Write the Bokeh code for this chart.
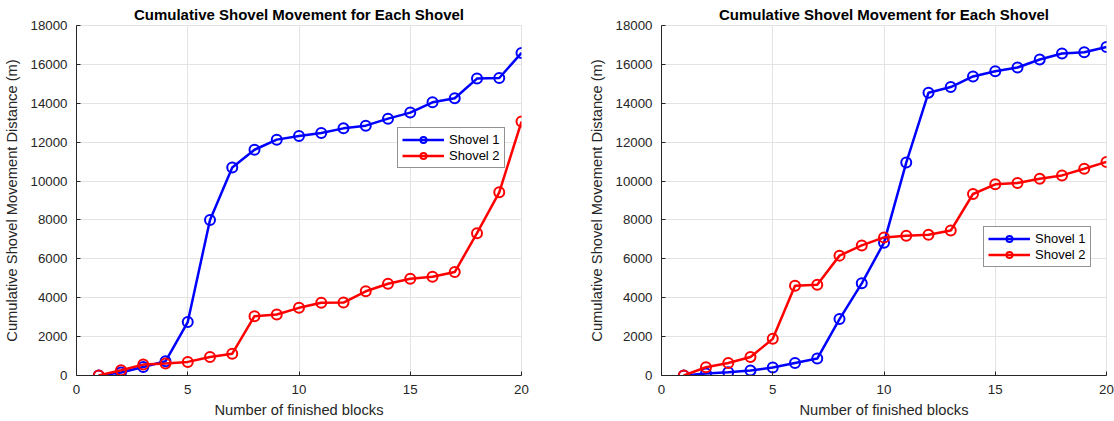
from bokeh.plotting import figure
from bokeh.layouts import row
from bokeh.models import Range1d, FixedTicker, Legend, LegendItem
from bokeh.embed import file_html
from bokeh.resources import INLINE

# ---- data ----
blocks = list(range(1, 21))
left_shovel1 = [0, 150, 440, 730, 2750, 8000, 10700, 11610, 12130, 12320,
                12470, 12710, 12850, 13210, 13520, 14050, 14260, 15270, 15300, 16590]
left_shovel2 = [0, 270, 560, 620, 700, 950, 1120, 3050, 3140, 3480,
                3740, 3750, 4330, 4720, 4980, 5080, 5320, 7320, 9420, 13060]
right_shovel1 = [0, 100, 170, 255, 410, 645, 870, 2900, 4740, 6830,
                 10950, 14545, 14835, 15380, 15650, 15840, 16250, 16560, 16620, 16890]
right_shovel2 = [0, 425, 645, 950, 1885, 4620, 4670, 6165, 6690, 7100,
                 7185, 7235, 7455, 9335, 9830, 9900, 10120, 10290, 10630, 10985]
series_names = ["Shovel 1", "Shovel 2"]
series_colors = ["#0000FF", "#FF0000"]
title_text = "Cumulative Shovel Movement for Each Shovel"
x_label = "Number of finished blocks"
y_label = "Cumulative Shovel Movement Distance (m)"
x_ticks = [0, 5, 10, 15, 20]
y_ticks = list(range(0, 18001, 2000))

FONT = "Liberation Sans"
AX = "#262626"
GRID = "#e3e3e3"


def make_panel(s1, s2, width, border_right, legend_xy):
    p = figure(width=width, height=421, output_backend="svg", toolbar_location=None,
               x_range=Range1d(0, 20), y_range=Range1d(0, 18000),
               min_border_left=74, min_border_right=border_right,
               min_border_top=25, min_border_bottom=46)
    p.title.text = title_text
    p.title.align = "center"
    p.title.text_font = FONT
    p.title.text_font_size = "15px"
    p.title.text_font_style = "bold"
    p.title.text_color = "#000000"
    p.title.standoff = 5
    p.title.text_line_height = 1.0

    p.xaxis.axis_label = x_label
    p.yaxis.axis_label = y_label
    for ax in (p.xaxis[0], p.yaxis[0]):
        ax.axis_label_text_font = FONT
        ax.axis_label_text_font_size = "14.7px"
        ax.axis_label_text_font_style = "normal"
        ax.axis_label_text_color = AX
        ax.major_label_text_font = FONT
        ax.major_label_text_font_size = "13.3px"
        ax.major_label_text_color = AX
        ax.axis_line_color = AX
        ax.axis_line_width = 1
        ax.major_tick_in = 4
        ax.major_tick_out = 0
        ax.major_tick_line_color = AX
        ax.minor_tick_line_color = None
    p.xaxis.ticker = FixedTicker(ticks=x_ticks)
    p.yaxis.ticker = FixedTicker(ticks=y_ticks)
    p.xaxis.major_label_standoff = 9
    p.xaxis.axis_label_standoff = 5
    p.yaxis.major_label_standoff = 9
    p.yaxis.axis_label_standoff = 8

    p.xgrid.grid_line_color = GRID
    p.ygrid.grid_line_color = GRID
    p.outline_line_color = GRID
    p.outline_line_width = 1
    p.background_fill_color = "#ffffff"
    p.border_fill_color = "#ffffff"

    items = []
    for ys, name, col in zip((s1, s2), series_names, series_colors):
        ln = p.line(blocks, ys, line_color=col, line_width=2.5)
        sc = p.scatter(blocks, ys, marker="circle", size=10, fill_color=None,
                       line_color=col, line_width=2)
        items.append(LegendItem(label=name, renderers=[ln, sc]))

    leg = Legend(items=items, location=legend_xy)
    leg.label_text_font = FONT
    leg.label_text_font_size = "13px"
    leg.label_text_color = "#000000"
    leg.glyph_width = 42
    leg.glyph_height = 15
    leg.label_height = 15
    leg.label_standoff = 5
    leg.spacing = 1
    leg.padding = 4
    leg.margin = 0
    leg.border_line_color = AX
    leg.border_line_width = 0.8
    leg.background_fill_color = "#ffffff"
    leg.background_fill_alpha = 1.0
    p.add_layout(leg)
    return p


p1 = make_panel(left_shovel1, left_shovel2, 585, 64, (321, 207))
p2 = make_panel(right_shovel1, right_shovel2, 529, 8, (322, 108))

layout = row(p1, p2)
open("out.html", "w").write(file_html(layout, INLINE))
